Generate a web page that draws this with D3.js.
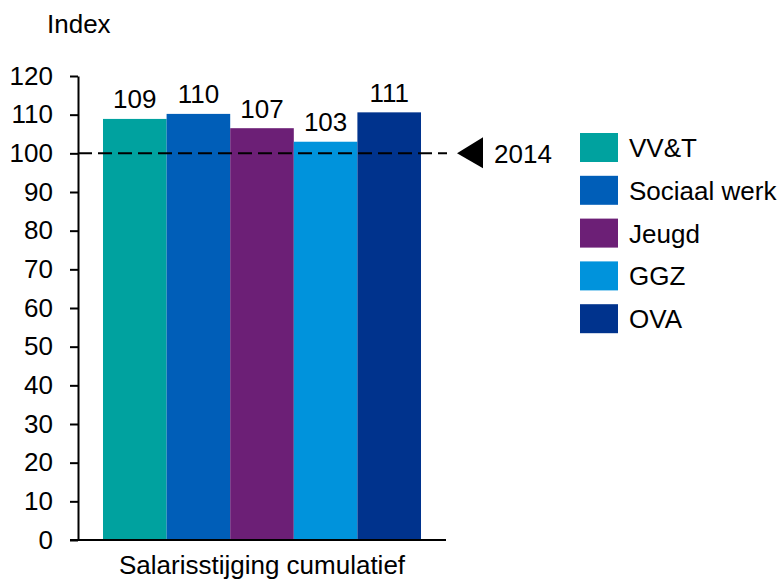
<!DOCTYPE html>
<html lang="nl">
<head>
    <meta charset="UTF-8">
    <title>Salarisstijging cumulatief</title>
    <script src="https://cdn.jsdelivr.net/npm/d3@7"></script>
    <style>
        body { margin: 0; background: #fff; }
        text { font-family: Arial, "Liberation Sans", sans-serif; fill: #000; }
    </style>
</head>
<body>
    <svg width="781" height="580"></svg>
    <script>
        // data
        const category = 'Salarisstijging cumulatief';
        const series = ['VV&T', 'Sociaal werk', 'Jeugd', 'GGZ', 'OVA'];
        const values = [108.9, 110.2, 106.5, 103.0, 110.6];
        const labels = ['109', '110', '107', '103', '111'];
        const colors = ['#00a29f', '#005eb8', '#6c1f76', '#0093dc', '#00338d'];
        const yTicks = [0, 10, 20, 30, 40, 50, 60, 70, 80, 90, 100, 110, 120];
        const baseline = 100;
        const baseLabel = '2014';

        const svg = d3.select('svg');
        const fs = 26;

        const x0 = d3.scaleBand().domain([category]).range([78, 446]).paddingInner(0).paddingOuter(0.0786);
        const x1 = d3.scaleBand().domain(series).range([0, x0.bandwidth()]).padding(0);
        const y = d3.scaleLinear().domain([0, 120]).range([540, 76]);

        // bars
        const g = svg.append('g').attr('transform', `translate(${x0(category)},0)`);
        g.selectAll('rect')
            .data(series)
            .enter().append('rect')
            .attr('x', d => x1(d))
            .attr('width', x1.bandwidth())
            .attr('y', (d, i) => y(values[i]))
            .attr('height', (d, i) => y(0) - y(values[i]))
            .attr('fill', (d, i) => colors[i]);

        g.selectAll('text.val')
            .data(series)
            .enter().append('text')
            .attr('class', 'val')
            .attr('x', d => x1(d) + x1.bandwidth() / 2)
            .attr('y', (d, i) => y(values[i]) - 10.5)
            .attr('text-anchor', 'middle')
            .style('font-size', fs + 'px')
            .text((d, i) => labels[i]);

        // y axis
        const yAxis = svg.append('g')
            .attr('transform', 'translate(78,0)')
            .call(d3.axisLeft(y).tickValues(yTicks).tickSize(8).tickPadding(17).tickSizeOuter(0));
        yAxis.select('.domain').attr('stroke', '#000').attr('stroke-width', 2);
        yAxis.selectAll('.tick line').attr('stroke', '#000').attr('stroke-width', 2);
        yAxis.selectAll('.tick text')
            .style('font-size', fs + 'px')
            .style('font-family', 'Arial, "Liberation Sans", sans-serif')
            .attr('fill', '#000');

        // x axis
        const xAxis = svg.append('g')
            .attr('transform', `translate(0,${y(0)})`)
            .call(d3.axisBottom(x0).tickSize(0).tickSizeOuter(0).tickPadding(16));
        xAxis.select('.domain').attr('stroke', '#000').attr('stroke-width', 2)
            .attr('d', `M70,0H446`);
        xAxis.selectAll('.tick text')
            .style('font-size', fs + 'px')
            .style('font-family', 'Arial, "Liberation Sans", sans-serif')
            .attr('fill', '#000');

        // baseline 2014
        svg.append('line')
            .attr('x1', 78).attr('x2', 447)
            .attr('y1', y(baseline)).attr('y2', y(baseline))
            .attr('stroke', '#000').attr('stroke-width', 2)
            .attr('stroke-dasharray', '14,6');
        const yb = y(baseline);
        svg.append('path')
            .attr('d', `M457,${yb}L483,${yb - 16}L483,${yb + 15}Z`)
            .attr('fill', '#000');
        svg.append('text')
            .attr('x', 494).attr('y', yb + 10)
            .style('font-size', fs + 'px')
            .text(baseLabel);

        // axis title
        svg.append('text')
            .attr('x', 47).attr('y', 33)
            .style('font-size', fs + 'px')
            .text('Index');

        // legend
        const legend = svg.append('g').attr('transform', 'translate(580,133)');
        const item = legend.selectAll('g')
            .data(series)
            .enter().append('g')
            .attr('transform', (d, i) => `translate(0,${i * 42.8})`);
        item.append('rect')
            .attr('width', 38).attr('height', 29)
            .attr('fill', (d, i) => colors[i]);
        item.append('text')
            .attr('x', 49).attr('y', 24)
            .style('font-size', fs + 'px')
            .text(d => d);
    </script>
</body>
</html>
